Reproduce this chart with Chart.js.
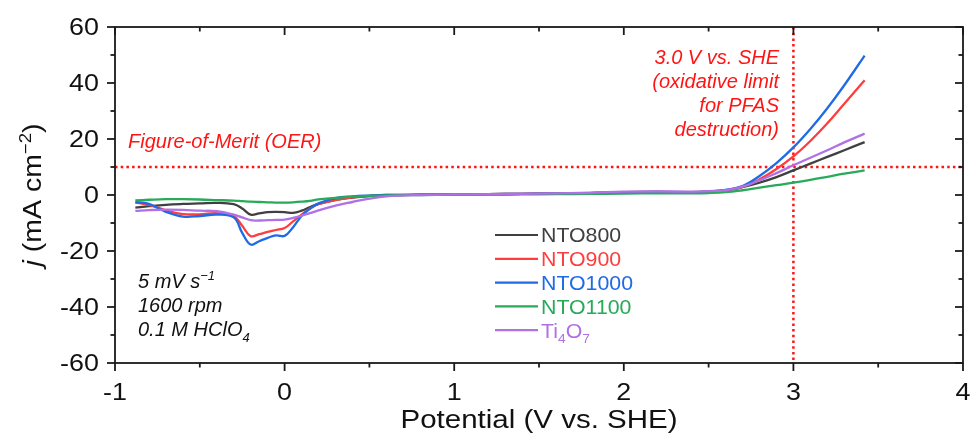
<!DOCTYPE html>
<html>
<head>
<meta charset="utf-8">
<script src="https://cdn.jsdelivr.net/npm/chart.js@4.4.1/dist/chart.umd.min.js"></script>
<style>
  html, body { margin: 0; padding: 0; background: #fff; }
  #wrap { width: 971px; height: 437px; }
</style>
</head>
<body>
<div id="wrap"><canvas id="lsv" width="971" height="437"></canvas></div>
<script>
// datos (potencial en V vs SHE, j en mA cm-2)
const potential = [-0.88, -0.8, -0.7, -0.6, -0.5, -0.4, -0.3, -0.25, -0.2, -0.15, -0.1, -0.05, 0, 0.05, 0.1, 0.15, 0.2, 0.3, 0.4, 0.5,
                   0.6, 0.8, 1.0, 1.2, 1.4, 1.6, 1.8, 2.0, 2.2, 2.4, 2.5, 2.6, 2.7, 2.8, 2.9, 3.0, 3.1, 3.2, 3.3, 3.42];
const nto800  = [-4.5, -4.0, -3.5, -3.2, -3.0, -2.8, -3.3, -4.8, -7.0, -6.6, -6.1, -6.0, -6.1, -6.4, -5.6, -4.3, -3.2, -1.7, -0.9, -0.4,
                 -0.1, 0.1, 0.2, 0.3, 0.4, 0.5, 0.7, 1.0, 1.1, 1.0, 1.2, 1.6, 2.8, 4.4, 6.4, 8.8, 11.2, 13.6, 16.0, 18.9];
const nto900  = [-2.7, -3.5, -5.5, -6.8, -6.9, -6.5, -7.5, -11.0, -14.7, -14.0, -13.2, -12.5, -11.8, -9.4, -7.0, -4.8, -3.3, -1.8, -0.8, -0.3,
                 0.0, 0.1, 0.2, 0.3, 0.4, 0.5, 0.7, 1.0, 1.1, 1.0, 1.2, 1.7, 2.9, 5.6, 9.3, 13.8, 19.3, 25.6, 32.6, 41.0];
const nto1000 = [-2.5, -3.2, -6.0, -7.7, -7.5, -7.0, -8.0, -13.5, -17.7, -16.5, -15.3, -14.4, -14.6, -11.5, -7.5, -4.9, -3.0, -1.1, -0.5, -0.2,
                 0.0, 0.1, 0.2, 0.3, 0.4, 0.5, 0.7, 1.0, 1.1, 1.0, 1.2, 1.8, 3.2, 6.8, 11.4, 17.0, 23.6, 31.0, 39.2, 49.8];
const nto1100 = [-1.9, -1.7, -1.5, -1.5, -1.6, -1.8, -2.0, -2.2, -2.4, -2.5, -2.6, -2.7, -2.7, -2.6, -2.4, -2.1, -1.6, -1.0, -0.6, -0.3,
                 -0.1, 0.0, 0.1, 0.1, 0.2, 0.3, 0.4, 0.5, 0.6, 0.6, 0.7, 1.0, 1.7, 2.6, 3.5, 4.4, 5.4, 6.5, 7.6, 8.8];
const ti4o7   = [-5.7, -5.4, -5.2, -5.3, -5.6, -5.8, -7.0, -8.0, -9.0, -9.1, -9.0, -8.9, -8.8, -8.2, -7.4, -6.5, -5.5, -3.8, -2.5, -1.3,
                 -0.5, 0.0, 0.2, 0.3, 0.4, 0.6, 0.8, 1.2, 1.3, 1.2, 1.4, 1.7, 3.0, 5.2, 7.8, 10.6, 13.3, 16.0, 18.8, 21.9];

const seriesNames  = ["NTO800", "NTO900", "NTO1000", "NTO1100", "Ti4O7"];
const seriesValues = [nto800, nto900, nto1000, nto1100, ti4o7];
const seriesColors = ["#404040", "#ff3d3d", "#1f6be6", "#28aa5a", "#b070e6"];

const xTicks = [-1, 0, 1, 2, 3, 4];
const xMinor = [-0.5, 0.5, 1.5, 2.5, 3.5];
const yTicks = [-60, -40, -20, 0, 20, 40, 60];
const yMinor = [-50, -30, -10, 10, 30, 50];

const meritLevel = 10;      // linea horizontal "Figure-of-Merit"
const limitPotential = 3.0; // linea vertical 3.0 V

const RED = "#ff1414";
const FONT = '"Liberation Sans", Arial, Helvetica, sans-serif';

// texto con sub/superindices, cursiva y estirado horizontal
function drawRich(ctx, segs, x, y, o) {
  const size = o.size, sx = o.sx || 1;
  const parts = segs.map(s => {
    const sz = (s.sub || s.sup) ? size * 0.65 : size;
    const it = s.italic !== undefined ? s.italic : o.italic;
    const font = (it ? "italic " : "") + sz.toFixed(1) + "px " + FONT;
    ctx.font = font;
    return { s, sz, font, w: ctx.measureText(s.t).width };
  });
  const total = parts.reduce((a, p) => a + p.w, 0);
  ctx.save();
  ctx.translate(x, y);
  if (o.rot) ctx.rotate(o.rot);
  ctx.scale(sx, 1);
  let cx = o.align === "right" ? -total : o.align === "center" ? -total / 2 : 0;
  ctx.textBaseline = "alphabetic";
  ctx.textAlign = "left";
  parts.forEach(p => {
    const dy = p.s.sub ? size * 0.28 : p.s.sup ? -size * 0.42 : 0;
    ctx.font = p.font;
    ctx.fillStyle = o.color;
    ctx.fillText(p.s.t, cx, dy);
    cx += p.w;
  });
  ctx.restore();
}

const framePlugin = {
  id: "frame",
  beforeDatasetsDraw(chart) {
    const { ctx, chartArea: a, scales: { x, y } } = chart;
    ctx.save();
    ctx.strokeStyle = RED;
    ctx.lineWidth = 2.5;
    ctx.setLineDash([2.5, 3.2]);
    const ym = y.getPixelForValue(meritLevel);
    ctx.beginPath(); ctx.moveTo(a.left, ym); ctx.lineTo(a.right, ym); ctx.stroke();
    const xl = x.getPixelForValue(limitPotential);
    ctx.beginPath(); ctx.moveTo(xl, a.top); ctx.lineTo(xl, a.bottom); ctx.stroke();
    ctx.restore();
  },
  afterDatasetsDraw(chart) {
    const { ctx, chartArea: a, scales: { x, y } } = chart;
    ctx.save();
    // marco
    ctx.strokeStyle = "#1a1a1a";
    ctx.lineWidth = 1.8;
    ctx.strokeRect(a.left, a.top, a.right - a.left, a.bottom - a.top);
    const tick = (x1, y1, x2, y2) => { ctx.beginPath(); ctx.moveTo(x1, y1); ctx.lineTo(x2, y2); ctx.stroke(); };
    const MAJ = 8, MIN = 4.5;
    xTicks.forEach(v => {
      const px = x.getPixelForValue(v);
      tick(px, a.bottom, px, a.bottom + MAJ);
      tick(px, a.top, px, a.top + MAJ);
    });
    xMinor.forEach(v => {
      const px = x.getPixelForValue(v);
      tick(px, a.bottom, px, a.bottom + MIN);
      tick(px, a.top, px, a.top + MIN);
    });
    yTicks.forEach(v => {
      const py = y.getPixelForValue(v);
      tick(a.left - MAJ, py, a.left, py);
      tick(a.right - MAJ, py, a.right, py);
    });
    yMinor.forEach(v => {
      const py = y.getPixelForValue(v);
      tick(a.left - MIN, py, a.left, py);
      tick(a.right - MIN, py, a.right, py);
    });

    // etiquetas de los ejes
    const axisTxt = { size: 23, sx: 1.17, color: "#111" };
    xTicks.forEach(v => drawRich(ctx, [{ t: String(v) }], x.getPixelForValue(v), a.bottom + 37, { ...axisTxt, align: "center" }));
    yTicks.forEach(v => drawRich(ctx, [{ t: String(v) }], a.left - 16, y.getPixelForValue(v) + 8.3, { ...axisTxt, align: "right" }));
    drawRich(ctx, [{ t: "Potential (V vs. SHE)" }], (a.left + a.right) / 2, 428, { size: 25, sx: 1.18, color: "#111", align: "center" });
    drawRich(ctx, [{ t: "j", italic: true }, { t: " (mA cm" }, { t: "\u22122", sup: true }, { t: ")" }],
      41, (a.top + a.bottom) / 2, { size: 25, sx: 1.14, color: "#111", align: "center", rot: -Math.PI / 2 });

    // anotaciones
    const note = { size: 20, italic: true, color: RED };
    drawRich(ctx, [{ t: "Figure-of-Merit (OER)" }], 128, 148, note);
    ["3.0 V vs. SHE", "(oxidative limit", "for PFAS", "destruction)"].forEach((t, i) =>
      drawRich(ctx, [{ t }], 779, 64 + i * 24, { ...note, align: "right" }));

    const cond = { size: 20, italic: true, color: "#111" };
    drawRich(ctx, [{ t: "5 mV s" }, { t: "\u22121", sup: true }], 138, 288, cond);
    drawRich(ctx, [{ t: "1600 rpm" }], 138, 312, cond);
    drawRich(ctx, [{ t: "0.1 M HClO" }, { t: "4", sub: true }], 138, 336, cond);

    // leyenda
    const legendLabels = [[{ t: "NTO800" }], [{ t: "NTO900" }], [{ t: "NTO1000" }], [{ t: "NTO1100" }],
                          [{ t: "Ti" }, { t: "4", sub: true }, { t: "O" }, { t: "7", sub: true }]];
    legendLabels.forEach((segs, i) => {
      const ly = 235 + i * 23.8;
      ctx.strokeStyle = seriesColors[i];
      ctx.lineWidth = 2.2;
      tick(495, ly, 538, ly);
      drawRich(ctx, segs, 541, ly + 7.4, { size: 20.5, sx: 1.04, color: seriesColors[i] });
    });
    ctx.restore();
  }
};

new Chart(document.getElementById("lsv"), {
  type: "line",
  data: {
    datasets: seriesNames.map((name, i) => ({
      label: name,
      data: potential.map((v, k) => ({ x: v, y: seriesValues[i][k] })),
      borderColor: seriesColors[i],
      borderWidth: 2.3,
      pointRadius: 0,
      tension: 0.4,
      fill: false,
      order: seriesNames.length - 1 - i
    }))
  },
  options: {
    responsive: false,
    devicePixelRatio: 1,
    animation: false,
    layout: { padding: { left: 115, right: 8, top: 27, bottom: 74 } },
    plugins: { legend: { display: false }, tooltip: { enabled: false } },
    scales: {
      x: { type: "linear", min: -1, max: 4, display: false },
      y: { type: "linear", min: -60, max: 60, display: false }
    }
  },
  plugins: [framePlugin]
});
</script>
</body>
</html>
